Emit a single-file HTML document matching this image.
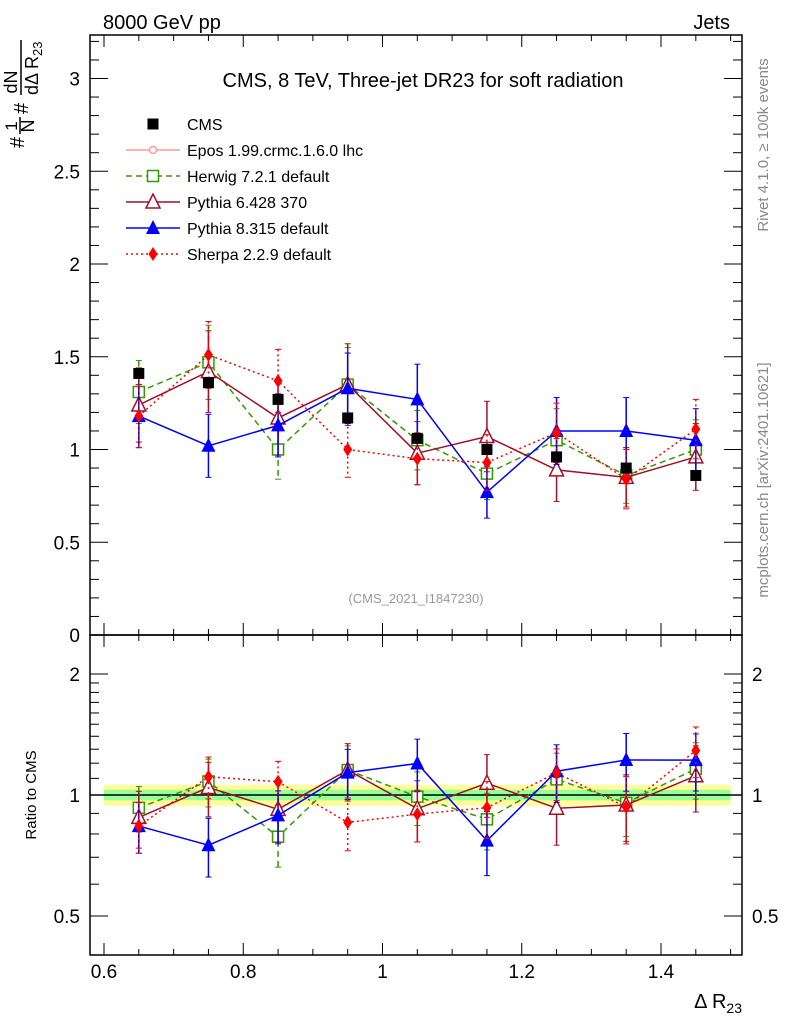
<!DOCTYPE html>
<html><head><meta charset="utf-8"><style>
body{margin:0;background:#fff;}
svg{display:block;font-family:"Liberation Sans",sans-serif;}
</style></head><body>
<svg id="c" width="786" height="1024" xmlns="http://www.w3.org/2000/svg">
<text x="103" y="29" font-size="20">8000 GeV pp</text>
<text x="730" y="29" font-size="20" text-anchor="end">Jets</text>
<text x="423" y="87" font-size="20" text-anchor="middle">CMS, 8 TeV, Three-jet DR23 for soft radiation</text>
<text x="416" y="603" font-size="13" fill="#999" text-anchor="middle">(CMS_2021_I1847230)</text>
<text transform="translate(768,145) rotate(-90)" font-size="15" fill="#888" text-anchor="middle">Rivet 4.1.0, ≥ 100k events</text>
<text transform="translate(768,480) rotate(-90)" font-size="15" fill="#888" text-anchor="middle">mcplots.cern.ch [arXiv:2401.10621]</text>
<g transform="translate(0,152) rotate(-90)">
<text x="4" y="24" font-size="20">#</text>
<text x="26" y="17" font-size="17" text-anchor="middle">1</text>
<line x1="18" x2="35" y1="20" y2="20" stroke="#000" stroke-width="1.5"/>
<text x="26" y="34" font-size="18" text-anchor="middle">N</text>
<text x="38" y="28" font-size="20">#</text>
<text x="70" y="17" font-size="18" text-anchor="middle">dN</text>
<line x1="57" x2="112" y1="21" y2="21" stroke="#000" stroke-width="1.5"/>
<text x="57" y="38" font-size="18">dΔ R<tspan font-size="13" dy="4">23</tspan></text>
</g>
<text transform="translate(36,795) rotate(-90)" font-size="15" text-anchor="middle">Ratio to CMS</text>
<text x="742" y="1008" font-size="20" text-anchor="end">Δ R<tspan font-size="14" dy="5">23</tspan></text>
<g id="g"></g>
</svg>
<script>
const xs=[0.65,0.75,0.85,0.95,1.05,1.15,1.25,1.35,1.45];
const cms=[1.41,1.36,1.27,1.17,1.06,1.00,0.96,0.90,0.86];
const herwig=[1.31,1.47,1.00,1.35,1.05,0.87,1.05,0.86,1.00];
const herwigErr=[0.17,0.2,0.16,0.2,0.16,0.14,0.17,0.15,0.16];
const py6=[1.24,1.42,1.17,1.35,0.98,1.07,0.89,0.85,0.96];
const py6Err=[0.2,0.22,0.2,0.22,0.17,0.19,0.17,0.16,0.18];
const py8=[1.18,1.02,1.13,1.33,1.27,0.77,1.10,1.10,1.05];
const py8Err=[0.17,0.17,0.17,0.19,0.19,0.14,0.18,0.18,0.17];
const sherpa=[1.18,1.51,1.37,1.00,0.95,0.93,1.09,0.84,1.11];
const sherpaErr=[0.17,0.18,0.17,0.15,0.14,0.15,0.16,0.16,0.16];
const xTicks=[0.6,0.8,1,1.2,1.4];
const yTicks=[0,0.5,1,1.5,2,2.5,3];
const rTicks=[0.5,1,2];
const NS="http://www.w3.org/2000/svg";
const g=document.getElementById('g');
const L=90,R=742,T=35,M=635,B=955;
const X=v=>104+(v-0.6)*696.25;
const Y=v=>635-185.5*v;
const RY=r=>795-121*Math.log2(r);
function el(t,a,p){const e=document.createElementNS(NS,t);for(const k in a)e.setAttribute(k,a[k]);(p||g).appendChild(e);return e;}
for(let i=0;i<xs.length;i++){
 let b=el('rect',{x:X(xs[i]-0.05),y:RY(1.06),width:X(0.7)-X(0.6),height:RY(0.94)-RY(1.06),fill:'#ffff99'});
 
 
 let c=el('rect',{x:X(xs[i]-0.05),y:RY(1.03),width:X(0.7)-X(0.6),height:RY(0.97)-RY(1.03),fill:'#99ff99'});
 
 
}
el('line',{x1:L,x2:R,y1:RY(1),y2:RY(1),stroke:'#000','stroke-width':1.5});
for(const [t,b] of [[T,M],[M,B]]){const f=el('rect',{x:L,y:t,width:R-L,height:b-t,fill:'none',stroke:'#000','stroke-width':1.5});}
for(let v=0.6;v<=1.5001;v+=0.05){const maj=Math.abs(v*5-Math.round(v*5))<1e-6;const len=maj?12:6;
 for(const [a,d] of [[M,-1],[B,-1],[T,1],[M,1]]){el('line',{x1:X(v),x2:X(v),y1:a,y2:a+d*len,stroke:'#000'});}}
xTicks.forEach(v=>{const t=el('text',{x:X(v),y:978,'font-size':19,'text-anchor':'middle'});t.textContent=String(v);});
for(let k=0;k<=32;k++){const v=k*0.1;const maj=k%5==0;const len=maj?18:9;const y=Y(v);if(y<T)continue;
 el('line',{x1:L,x2:L+len,y1:y,y2:y,stroke:'#000'});el('line',{x1:R,x2:R-len,y1:y,y2:y,stroke:'#000'});}
yTicks.forEach(v=>{const t=el('text',{x:80,y:Y(v)+7,'font-size':19,'text-anchor':'end'});t.textContent=String(v);});
[0.4,0.5,0.6,0.7,0.8,0.9,1,1.1,1.2,1.3,1.4,1.5,1.6,1.7,1.8,1.9,2].forEach(r=>{const maj=rTicks.includes(r);const len=maj?18:9;const y=RY(r);
 el('line',{x1:L,x2:L+len,y1:y,y2:y,stroke:'#000'});el('line',{x1:R,x2:R-len,y1:y,y2:y,stroke:'#000'});});
rTicks.forEach(r=>{for(const [x,a] of [[80,'end'],[752,'start']]){const t=el('text',{x:x,y:RY(r)+7,'font-size':19,'text-anchor':a});t.textContent=String(r);}});
function marker(type,x,y,col,name){let m;
 if(type=='sq')m=el('rect',{x:x-5.5,y:y-5.5,width:11,height:11,fill:col});
 else if(type=='osq')m=el('rect',{x:x-5.5,y:y-5.5,width:11,height:11,fill:'#fff',stroke:col,'stroke-width':1.5});
 else if(type=='otri')m=el('polygon',{points:`${x},${y-8} ${x-7},${y+6} ${x+7},${y+6}`,fill:'#fff',stroke:col,'stroke-width':1.5});
 else if(type=='tri')m=el('polygon',{points:`${x},${y-8} ${x-7},${y+6} ${x+7},${y+6}`,fill:col});
 else if(type=='dia')m=el('polygon',{points:`${x},${y-7} ${x-4.5},${y} ${x},${y+7} ${x+4.5},${y}`,fill:col});
 
 }
const series=[
 {n:'herwig',v:herwig,e:herwigErr,c:'#339900',d:'6,4',m:'osq'},
 {n:'pythia6',v:py6,e:py6Err,c:'#a0102a',d:'',m:'otri'},
 {n:'pythia8',v:py8,e:py8Err,c:'#0000ff',d:'',m:'tri'},
 {n:'sherpa',v:sherpa,e:sherpaErr,c:'#ff0000',d:'2,3',m:'dia'}];
series.forEach(s=>{
 for(const ratio of [false,true]){
  const yf=ratio?(i,v)=>RY(v/cms[i]):(i,v)=>Y(v);
  const pts=xs.map((x,i)=>X(x)+','+yf(i,s.v[i])).join(' ');
  const p=el('polyline',{points:pts,fill:'none',stroke:s.c,'stroke-width':1.5,'stroke-dasharray':s.d});
  
  
  xs.forEach((x,i)=>{const y1=yf(i,s.v[i]+s.e[i]),y2=yf(i,Math.max(s.v[i]-s.e[i],0.05));
   el('line',{x1:X(x),x2:X(x),y1:y1,y2:y2,stroke:s.c,'stroke-width':1.5,'stroke-dasharray':s.d});
   el('line',{x1:X(x)-3,x2:X(x)+3,y1:y1,y2:y1,stroke:s.c});el('line',{x1:X(x)-3,x2:X(x)+3,y1:y2,y2:y2,stroke:s.c});
   marker(s.m,X(x),yf(i,s.v[i]),s.c,s.n+'-point');});
 }});
xs.forEach((x,i)=>marker('sq',X(x),Y(cms[i]),'#000','cms-point'));
const leg=[['CMS','sq','#000',''],['Epos 1.99.crmc.1.6.0 lhc','epos','#ff9999',''],['Herwig 7.2.1 default','osq','#339900','6,4'],['Pythia 6.428 370','otri','#a0102a',''],['Pythia 8.315 default','tri','#0000ff',''],['Sherpa 2.2.9 default','dia','#ff0000','2,3']];
leg.forEach((l,k)=>{const y=124+k*26;
 if(k>0)el('line',{x1:126,x2:180,y1:y,y2:y,stroke:l[2],'stroke-width':1.5,'stroke-dasharray':l[3]});
 if(l[1]=='epos'){const c=el('circle',{cx:153,cy:y,r:3.5,fill:'#fff',stroke:l[2],'stroke-width':1.5});}
 else marker(l[1],153,y,l[2],'legend-marker');
 const t=el('text',{x:187,y:y+6,'font-size':16});t.textContent=l[0];
 
 });
</script>
</body></html>
